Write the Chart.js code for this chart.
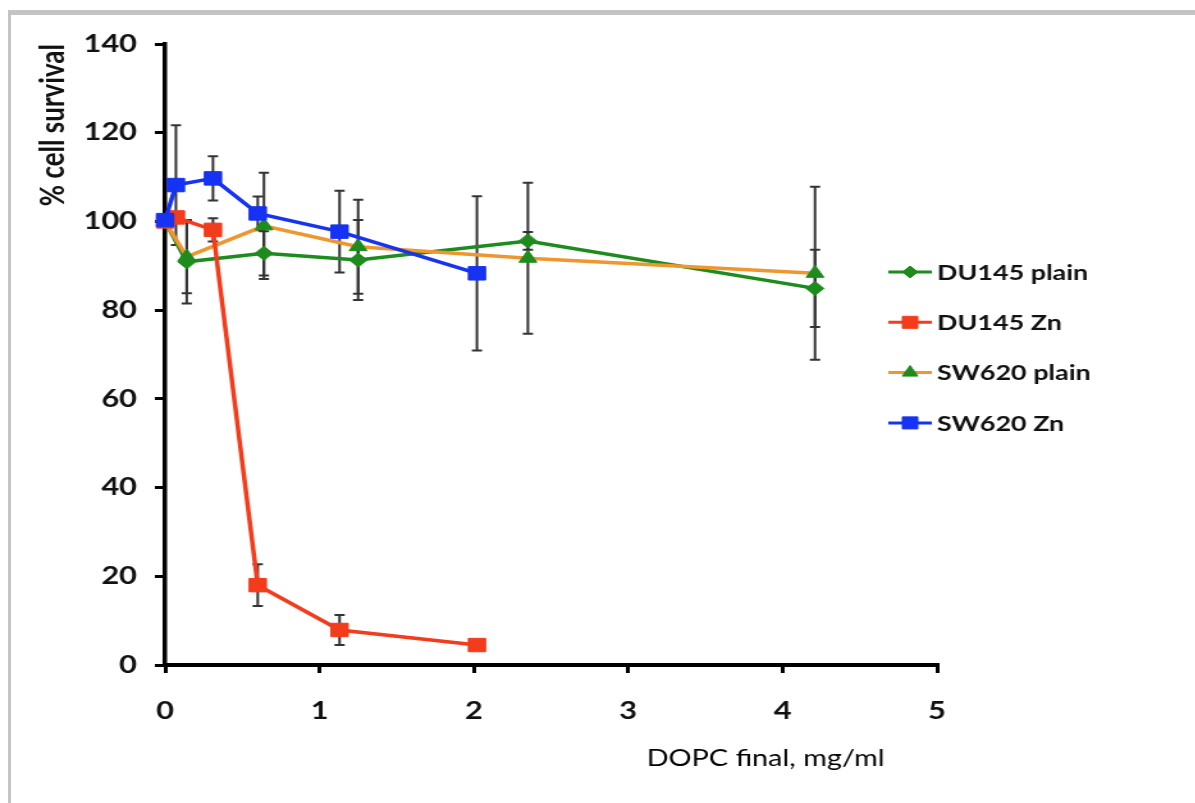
<!DOCTYPE html>
<html>
<head>
<meta charset="utf-8">
<style>
  html, body { margin: 0; padding: 0; background: #fff; overflow: hidden; width: 1195px; height: 803px; }
  /* the source picture is stretched sideways, so draw narrow and stretch */
  #wrap { position: absolute; left: 0; top: 0; width: 934px; height: 803px; transform: scaleX(1.28); transform-origin: 0 0; }
  #frame { position: absolute; left: 8px; top: 10px; right: 0; bottom: 0; border-top: 5px solid #c4c4c4; border-left: 3px solid #c4c4c4; pointer-events: none; }
</style>
</head>
<body>
<div id="wrap"><canvas id="myChart" width="934" height="803"></canvas></div>
<div id="frame"></div>

<script src="https://cdn.jsdelivr.net/npm/chart.js"></script>
<script>
  // concentrations, mg/ml
  const plainX = [0, 0.14, 0.64, 1.25, 2.35, 4.21]
  const znX = [0, 0.07, 0.31, 0.6, 1.13, 2.02]

  // % cell survival and +/- error
  const du145Plain = [100, 90.9, 92.8, 91.3, 95.6, 84.9]
  const du145PlainErr = [0, 9.4, 5, 9, 2, 8.7]
  const du145Zn = [100, 100.9, 98.1, 18.0, 7.9, 4.5]
  const du145ZnErr = [0, 0, 2.6, 4.7, 3.4, 0]
  const sw620Plain = [100, 92, 99, 94.3, 91.7, 88.3]
  const sw620PlainErr = [0, 8.2, 12, 10.6, 17, 19.5]
  const sw620Zn = [100.3, 108.2, 109.7, 101.8, 97.7, 88.3]
  const sw620ZnErr = [0, 13.5, 5, 3.8, 9.2, 17.4]

  const seriesNames = ['DU145 plain', 'DU145 Zn', 'SW620 plain', 'SW620 Zn']
  const xTitle = 'DOPC final, mg/ml'
  const yTitle = '% cell survival'

  function pts(xs, ys) {
    return xs.map((x, i) => ({x: x, y: ys[i]}))
  }

  const green = '#1d8c1d', red = '#f23c1c', orange = '#f0962e', blue = '#1632f2'

  const datasets = [
    {label: seriesNames[0], data: pts(plainX, du145Plain), errors: du145PlainErr,
     borderColor: green, backgroundColor: green, pointStyle: 'rectRot', pointRadius: 7, order: 3},
    {label: seriesNames[1], data: pts(znX, du145Zn), errors: du145ZnErr,
     borderColor: red, backgroundColor: red, pointStyle: 'rect', pointRadius: 9.5, order: 1},
    {label: seriesNames[2], data: pts(plainX, sw620Plain), errors: sw620PlainErr,
     borderColor: orange, backgroundColor: green, pointBorderColor: green, pointStyle: 'triangle', pointRadius: 8, order: 2},
    {label: seriesNames[3], data: pts(znX, sw620Zn), errors: sw620ZnErr,
     borderColor: blue, backgroundColor: blue, pointStyle: 'rect', pointRadius: 9.5, order: 0}
  ]
  datasets.forEach(ds => {
    ds.borderWidth = 3.5
    ds.pointBorderWidth = 1
    ds.tension = 0
    ds.clip = false
    ds.pointBackgroundColor = ds.backgroundColor
  })

  const errorBars = {
    id: 'errorBars',
    beforeDatasetsDraw: (chart, args, opts) => {
      const {ctx} = chart
      const x = chart.scales.x, y = chart.scales.y
      ctx.save()
      ctx.strokeStyle = opts.color
      ctx.lineWidth = opts.width
      chart.data.datasets.forEach(ds => {
        ds.data.forEach((p, i) => {
          const e = ds.errors[i]
          if (!e) return
          const px = x.getPixelForValue(p.x)
          const top = y.getPixelForValue(p.y + e)
          const bot = y.getPixelForValue(p.y - e)
          ctx.beginPath()
          ctx.moveTo(px, top); ctx.lineTo(px, bot)
          ctx.moveTo(px - opts.cap, top); ctx.lineTo(px + opts.cap, top)
          ctx.moveTo(px - opts.cap, bot); ctx.lineTo(px + opts.cap, bot)
          ctx.stroke()
        })
      })
      ctx.restore()
    }
  }

  // legend with the line running through the marker, plus the x title
  const sideLegend = {
    id: 'sideLegend',
    afterDraw: (chart, args, opts) => {
      const {ctx, chartArea} = chart
      ctx.save()
      chart.data.datasets.forEach((ds, i) => {
        const yy = opts.top + i * opts.step
        const x0 = chartArea.right - opts.lineLen - 4
        const x1 = chartArea.right - 4
        ctx.strokeStyle = ds.borderColor
        ctx.lineWidth = 3
        ctx.beginPath()
        ctx.moveTo(x0, yy); ctx.lineTo(x1, yy)
        ctx.stroke()
        ctx.fillStyle = ds.pointBackgroundColor
        ctx.strokeStyle = ds.pointBorderColor || ds.borderColor
        ctx.lineWidth = 1
        Chart.helpers.drawPoint(ctx, {pointStyle: ds.pointStyle, radius: ds.pointRadius - 1, borderWidth: 1, rotation: 0}, (x0 + x1) / 2, yy)
        ctx.fillStyle = '#111'
        ctx.font = 'bold 21px Lato'
        ctx.textBaseline = 'middle'
        ctx.textAlign = 'left'
        ctx.fillText(ds.label, chartArea.right, yy + 1)
      })
      ctx.font = '22.5px Lato'
      ctx.fillStyle = '#000'
      ctx.textAlign = 'right'
      ctx.textBaseline = 'alphabetic'
      ctx.fillText(xTitle, chartArea.right - opts.titleRight, opts.titleY)
      ctx.restore()
    }
  }

  Chart.defaults.font.family = 'Lato'

  const ctx = document.getElementById('myChart')
  new Chart(ctx, {
    type: 'line',
    data: {datasets: datasets},
    options: {
      responsive: false,
      animation: false,
      layout: {padding: {top: 44, right: 202, left: 0, bottom: 0}},
      scales: {
        x: {
          type: 'linear', min: 0, max: 5,
          ticks: {stepSize: 1, padding: 24, color: '#111', font: {size: 24, weight: 'bold'}},
          grid: {drawOnChartArea: false, tickLength: 8, color: '#000', lineWidth: 3},
          border: {color: '#000', width: 4},
          afterFit: (s) => { s.height = 138 }
        },
        y: {
          min: 0, max: 140,
          ticks: {stepSize: 20, padding: 14, color: '#111', font: {size: 24, weight: 'bold'}},
          grid: {drawOnChartArea: false, tickLength: 8, color: '#000', lineWidth: 3},
          border: {color: '#000', width: 3.5},
          title: {display: true, text: yTitle, align: 'end', color: '#111', font: {size: 26, weight: 'bold'}, padding: {top: 26, bottom: 0}},
          afterFit: (s) => { s.width = 129 }
        }
      },
      plugins: {
        legend: {display: false},
        tooltip: {enabled: false},
        errorBars: {color: '#333', width: 2, cap: 4},
        sideLegend: {top: 272, step: 50.3, lineLen: 34, titleRight: 41, titleY: 766}
      }
    },
    plugins: [errorBars, sideLegend]
  })
</script>
</body>
</html>
